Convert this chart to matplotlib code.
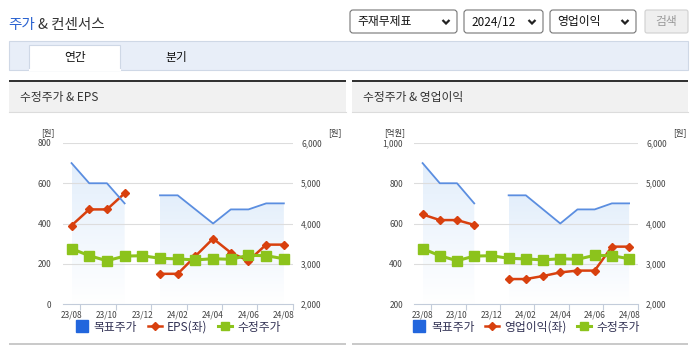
import numpy as np
import matplotlib.pyplot as plt
from matplotlib.patches import Rectangle, FancyBboxPatch, Polygon
from matplotlib.lines import Line2D
from matplotlib.ticker import FuncFormatter, FixedLocator

plt.rcParams['font.family'] = ['Noto Sans CJK KR', 'DejaVu Sans']

# data
months = ['23/08', '23/09', '23/10', '23/11', '23/12', '24/01', '24/02',
          '24/03', '24/04', '24/05', '24/06', '24/07', '24/08']
target_price = [5500, 5000, 5000, 4500, np.nan, 4700, 4700, 4350, 4000, 4350, 4350, 4500, 4500]
adj_price = [3375, 3200, 3075, 3190, 3200, 3135, 3120, 3095, 3125, 3110, 3210, 3200, 3125]
eps = [390, 470, 470, 550, np.nan, 150, 150, 238, 325, 255, 215, 295, 295]
op_profit = [645, 617, 617, 593, np.nan, 324, 324, 339, 357, 366, 366, 485, 485]

W, H = 695, 349
BLUE = '#5b8ee0'
RED = '#d8400e'
GREEN = '#8cc31c'
TXT = '#333333'

fig = plt.figure(figsize=(W / 100, H / 100), dpi=100)

# overlay axes in pixel coordinates for the page decoration
bg = fig.add_axes([0, 0, 1, 1], zorder=0)
bg.set_xlim(0, W)
bg.set_ylim(H, 0)
bg.axis('off')


def rect(x0, y0, x1, y1, **kw):
    bg.add_patch(Rectangle((x0, y0), x1 - x0, y1 - y0, **kw))


# title
bg.text(8, 25, '주가', color='#2a62d0', fontsize=10.5, va='center', ha='left')
bg.text(38, 25, '& 컨센서스', color=TXT, fontsize=10.5, va='center', ha='left')

# dropdowns
boxes = [(350, 457, '주재무제표'), (464, 543, '2024/12'), (550, 636, '영업이익')]
for x0, x1, label in boxes:
    bg.add_patch(FancyBboxPatch((x0, 10), x1 - x0, 23, boxstyle='round,pad=0,rounding_size=3',
                                fc='white', ec='#767676', lw=0.8))
    bg.text(x0 + 7, 22, label, fontsize=8.5, color='#111111', va='center', ha='left')
    cx = x1 - 11
    bg.plot([cx - 3.5, cx, cx + 3.5], [20, 23.5, 20], color='#222222', lw=1.6,
            solid_capstyle='butt', solid_joinstyle='miter')
bg.add_patch(FancyBboxPatch((645, 10), 43, 23, boxstyle='round,pad=0,rounding_size=2',
                            fc='#efefef', ec='#d0d0d0', lw=0.8))
bg.text(666.5, 22, '검색', fontsize=8.5, color='#9a9a9a', va='center', ha='center')

# tab bar
rect(9, 40.5, 688, 69.5, fc='#e8eef8', ec='#cfd8e6', lw=0.8)
rect(29.3, 45.3, 120.3, 70, fc='white', ec='#cfd8e6', lw=0.8)
bg.plot([29.8, 119.8], [69.8, 69.8], color='white', lw=1.5)
bg.text(75, 57.5, '연간', fontsize=8.5, color='#111111', ha='center', va='center')
bg.text(176, 57.5, '분기', fontsize=8.5, color='#111111', ha='center', va='center')

# panels
panels = [(9, 345.7, '수정주가 & EPS'), (352, 688, '수정주가 & 영업이익')]
for x0, x1, title in panels:
    rect(x0, 82, x1, 111.5, fc='#f1f1f1', ec='none')
    rect(x0, 80, x1, 82, fc='#333333', ec='none')
    bg.plot([x0, x1], [111.5, 111.5], color='#dcdcdc', lw=0.8)
    bg.text(x0 + 11, 97, title, fontsize=8.5, color=TXT, ha='left', va='center')
    rect(x0, 342.5, x1, 344.5, fc='#cacaca', ec='none')

x = np.arange(len(months))


def gradient_fill(ax, xs, ys, bottom):
    xs = np.asarray(xs, float)
    ys = np.asarray(ys, float)
    idx = np.where(~np.isnan(ys))[0]
    runs = np.split(idx, np.where(np.diff(idx) != 1)[0] + 1)
    for r in runs:
        if len(r) < 2:
            continue
        px = xs[r]
        py = ys[r]
        verts = [(px[0], bottom)] + list(zip(px, py)) + [(px[-1], bottom)]
        poly = Polygon(verts, closed=True, fc='none', ec='none')
        ax.add_patch(poly)
        t = np.linspace(0, 1, 256)[:, None, None]
        c0 = np.array([0.89, 0.935, 0.985])
        c1 = np.array([1.0, 1.0, 1.0])
        img = np.ones((256, 1, 4))
        img[..., :3] = c0 * (1 - t) + c1 * t
        im = ax.imshow(img, extent=(px[0], px[-1], bottom, py.max()),
                       origin='upper', aspect='auto', zorder=1, interpolation='bilinear')
        im.set_clip_path(poly)


def make_chart(left, width, left_vals, left_ticks, left_unit, left_label, unit_left_x):
    rect_ax = [left / W, 1 - 304 / H, width / W, 161 / H]
    # base axes: target price fill (price scale), drawn first
    base = fig.add_axes(rect_ax, zorder=2)
    base.set_facecolor('none')
    # left scale: EPS / operating profit
    ax = base.twinx()
    ax.yaxis.tick_left()
    # right scale: prices
    ax2 = base.twinx()

    gradient_fill(base, x, target_price, 2000)
    base.set_ylim(2000, 6000)
    base.set_yticks([])

    ax.plot(x, left_vals, color=RED, lw=1.8, marker='D', ms=4.5, zorder=3)
    ax2.plot(x, target_price, color=BLUE, lw=1.3, zorder=3)
    ax2.plot(x, adj_price, color=GREEN, lw=2.2, marker='s', ms=6.5, zorder=4)

    ax.set_ylim(left_ticks[0], left_ticks[-1])
    ax2.set_ylim(2000, 6000)
    for a in (base, ax, ax2):
        a.set_xlim(-0.5, len(months) - 0.5)

    fmt = FuncFormatter(lambda v, p: f'{int(v):,}')
    ax.set_yticks(left_ticks)
    ax.yaxis.set_major_formatter(fmt)
    ax2.set_yticks([2000, 3000, 4000, 5000, 6000])
    ax2.yaxis.set_major_formatter(fmt)
    for v in left_ticks[1:]:
        ax.axhline(v, color='#dddddd', lw=0.8, zorder=0)

    base.set_xticks(x[::2])
    base.set_xticklabels(months[::2])
    base.xaxis.set_minor_locator(FixedLocator(np.arange(0.5, len(months), 2)))
    base.tick_params(axis='x', which='major', length=0, pad=5, labelsize=6, labelcolor='#444444')
    base.tick_params(axis='x', which='minor', length=4, width=0.8, color='#c3ccda')
    ax.tick_params(axis='y', length=0, pad=8, labelsize=6, labelcolor='#444444')
    ax2.tick_params(axis='y', length=0, pad=6, labelsize=6, labelcolor='#444444')

    for a in (base, ax, ax2):
        for s in ('top', 'left', 'right'):
            a.spines[s].set_visible(False)
    base.spines['bottom'].set_color('#c3ccda')
    base.spines['bottom'].set_linewidth(0.8)
    ax.spines['bottom'].set_visible(False)
    ax2.spines['bottom'].set_visible(False)

    bg.text(unit_left_x, 133, left_unit, fontsize=6, color=TXT, ha='right', va='center')
    bg.text(left + width + 35.5, 133, '[원]', fontsize=6, color=TXT, ha='left', va='center')

    handles = [
        Line2D([], [], color='#2266dd', marker='s', ls='none', ms=9),
        Line2D([], [], color=RED, marker='D', lw=1.8, ms=4),
        Line2D([], [], color=GREEN, marker='s', lw=2.2, ms=6),
    ]
    ax2.legend(handles, ['목표주가', left_label, '수정주가'], loc='center',
               bbox_to_anchor=(0.5, (304 - 327) / 161), ncol=3, frameon=False,
               fontsize=8.5, handlelength=1.2, handletextpad=0.4, columnspacing=0.9,
               labelcolor='#333355')


make_chart(62.7, 230, eps, [0, 200, 400, 600, 800], '[원]', 'EPS(좌)', 55)
make_chart(414, 223.7, op_profit, [200, 400, 600, 800, 1000], '[억원]', '영업이익(좌)', 405)

fig.savefig('out.png', dpi=100)
